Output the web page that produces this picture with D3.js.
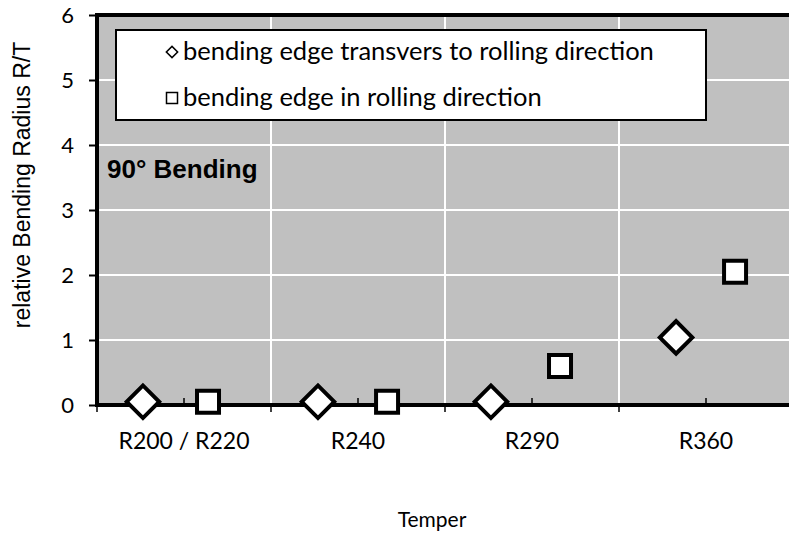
<!DOCTYPE html>
<html>
<head>
<meta charset="utf-8">
<script src="https://cdn.jsdelivr.net/npm/d3@7"></script>
<style>
  body { margin: 0; background: #fff; }
  svg { display: block; }
</style>
</head>
<body>
<svg id="chart" width="789" height="536"></svg>
<script>
// ---- data ----
const categories = ["R200 / R220", "R240", "R290", "R360"];
const yTicks = [0, 1, 2, 3, 4, 5, 6];
// series 1: bending edge transvers to rolling direction (diamonds)
const transX = [0.764, 1.77, 2.764, 3.828];
const transY = [0.05, 0.05, 0.05, 1.04];
// series 2: bending edge in rolling direction (squares)
const rollX = [1.138, 2.167, 3.161, 4.167];
const rollY = [0.05, 0.05, 0.6, 2.05];
const seriesNames = ["bending edge transvers to rolling direction", "bending edge in rolling direction"];
const annotation = "90° Bending";
const xTitle = "Temper";
const yTitle = "relative Bending Radius R/T";

// ---- layout ----
const svg = d3.select("#chart");
const plot = { left: 97, right: 793, top: 15, bottom: 405 };
const x = d3.scaleLinear().domain([0.5, 4.5]).range([plot.left, plot.right]);
const y = d3.scaleLinear().domain([0, 6]).range([plot.bottom, plot.top]);
const bodyFont = "Lato, 'Open Sans', sans-serif";
const arialFont = "'Liberation Sans', Arial, sans-serif";

// background
svg.append("rect").attr("x", plot.left).attr("y", plot.top)
  .attr("width", plot.right - plot.left).attr("height", plot.bottom - plot.top)
  .attr("fill", "#c0c0c0");

// gridlines
const boundaries = d3.range(1, categories.length).map(i => i + 0.5);
svg.append("g").selectAll("line").data(yTicks.filter(d => d > 0 && d < 6)).join("line")
  .attr("x1", plot.left).attr("x2", plot.right)
  .attr("y1", d => y(d)).attr("y2", d => y(d))
  .attr("stroke", "#fff").attr("stroke-width", 2);
svg.append("g").selectAll("line").data(boundaries).join("line")
  .attr("x1", d => x(d)).attr("x2", d => x(d))
  .attr("y1", plot.top).attr("y2", plot.bottom)
  .attr("stroke", "#fff").attr("stroke-width", 2);

// y axis
const yAxis = d3.axisLeft(y).tickValues(yTicks).tickSize(8).tickPadding(15).tickFormat(d3.format("d"));
const gy = svg.append("g").attr("transform", `translate(${plot.left},0)`).call(yAxis);
gy.select(".domain").remove();
gy.selectAll(".tick line").attr("stroke", "#000").attr("stroke-width", 2);
gy.selectAll(".tick text").attr("font-family", bodyFont).attr("font-size", 22).attr("fill", "#000");

// x axis: outside ticks at category boundaries, inside ticks at centers
const xMajor = d3.range(0, categories.length + 1).map(i => i + 0.5);
const gx = svg.append("g").attr("transform", `translate(0,${plot.bottom})`);
gx.selectAll("line.major").data(xMajor).join("line").attr("class", "major")
  .attr("x1", d => x(d)).attr("x2", d => x(d)).attr("y1", 0).attr("y2", 7)
  .attr("stroke", "#000").attr("stroke-width", 1.5);
gx.selectAll("line.minor").data(d3.range(1, categories.length + 1)).join("line").attr("class", "minor")
  .attr("x1", d => x(d)).attr("x2", d => x(d)).attr("y1", 0).attr("y2", -7)
  .attr("stroke", "#000").attr("stroke-width", 1.5);
gx.selectAll("text").data(categories).join("text")
  .attr("x", (d, i) => x(i + 1)).attr("y", 44)
  .attr("text-anchor", "middle")
  .attr("font-family", bodyFont).attr("font-size", 23).attr("fill", "#000")
  .text(d => d);

// frame lines (axes)
svg.append("line").attr("x1", plot.left).attr("x2", plot.right).attr("y1", plot.top).attr("y2", plot.top)
  .attr("stroke", "#000").attr("stroke-width", 4);
svg.append("line").attr("x1", plot.left).attr("x2", plot.right).attr("y1", plot.bottom).attr("y2", plot.bottom)
  .attr("stroke", "#000").attr("stroke-width", 4);
svg.append("line").attr("x1", plot.left).attr("x2", plot.left).attr("y1", plot.top - 2).attr("y2", plot.bottom + 2)
  .attr("stroke", "#000").attr("stroke-width", 4);

// annotation
svg.append("text").attr("x", 107).attr("y", 178)
  .attr("font-family", arialFont).attr("font-weight", "bold").attr("font-size", 26)
  .attr("fill", "#000").text(annotation);

// legend
const lg = svg.append("g");
lg.append("rect").attr("x", 116).attr("y", 30).attr("width", 590).attr("height", 90)
  .attr("fill", "#fff").attr("stroke", "#000").attr("stroke-width", 2);
lg.append("path").attr("d", d3.symbol().type(d3.symbolSquare).size(64)())
  .attr("transform", "translate(172,52) rotate(45)")
  .attr("fill", "#fff").attr("stroke", "#000").attr("stroke-width", 1.5);
lg.append("path").attr("d", d3.symbol().type(d3.symbolSquare).size(121)())
  .attr("transform", "translate(172,98)")
  .attr("fill", "#fff").attr("stroke", "#000").attr("stroke-width", 1.5);
lg.selectAll("text").data(seriesNames).join("text")
  .attr("x", 183).attr("y", (d, i) => 60 + i * 46)
  .attr("font-family", bodyFont).attr("font-size", 25.5).attr("fill", "#000")
  .text(d => d);

// markers
const diamond = d3.symbol().type(d3.symbolSquare).size(23 * 23);
const square = d3.symbol().type(d3.symbolSquare).size(22 * 22);
svg.append("g").selectAll("path").data(d3.zip(transX, transY)).join("path")
  .attr("d", diamond())
  .attr("transform", d => `translate(${x(d[0])},${y(d[1])}) rotate(45)`)
  .attr("fill", "#fff").attr("stroke", "#000").attr("stroke-width", 4);
svg.append("g").selectAll("path").data(d3.zip(rollX, rollY)).join("path")
  .attr("d", square())
  .attr("transform", d => `translate(${x(d[0])},${y(d[1])})`)
  .attr("fill", "#fff").attr("stroke", "#000").attr("stroke-width", 4);

// axis titles
svg.append("text").attr("x", 432).attr("y", 527).attr("text-anchor", "middle")
  .attr("font-family", bodyFont).attr("font-size", 21).attr("fill", "#000").text(xTitle);
svg.append("text").attr("transform", "translate(30,185) rotate(-90)").attr("text-anchor", "middle")
  .attr("font-family", arialFont).attr("font-size", 23).attr("fill", "#000").text(yTitle);
</script>
</body>
</html>
